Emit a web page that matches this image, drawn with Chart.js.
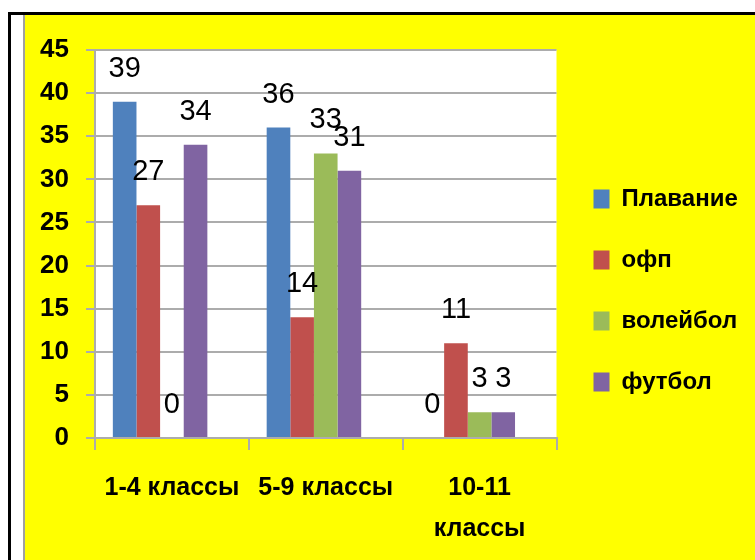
<!DOCTYPE html>
<html>
<head>
<meta charset="utf-8">
<script src="https://cdn.jsdelivr.net/npm/chart.js@4.4.1/dist/chart.umd.min.js"></script>
<style>
  body { margin: 0; background: #ffffff; }
  canvas { display: block; }
</style>
</head>
<body>
<canvas id="sportChart" width="755" height="560"></canvas>
<script>
var groups = ['1-4 классы', '5-9 классы', ['10-11', 'классы']];
var seriesNames = ['Плавание', 'офп', 'волейбол', 'футбол'];
var swimming = [39, 36, 0];
var ofp = [27, 14, 11];
var volleyball = [0, 33, 3];
var football = [34, 31, 3];
var seriesColors = ['#4f81bd', '#c0504d', '#9bbb59', '#8064a2'];

var gridGray = '#acacac';

// page frame, yellow background and white plot area
var backdrop = {
    id: 'backdrop',
    afterLayout: function(chart) {
        // let the two-line category label run below the padded box
        chart.scales.x.bottom = chart.height;
    },
    beforeDraw: function(chart) {
        var c = chart.ctx, a = chart.chartArea;
        c.save();
        c.fillStyle = '#ffffff';
        c.fillRect(0, 0, chart.width, chart.height);
        c.fillStyle = '#000000';
        c.fillRect(8, 12, 3, chart.height - 12);
        c.fillRect(8, 12, chart.width - 8, 3);
        c.fillStyle = '#a0a0a0';
        c.fillRect(23, 15, 2, chart.height - 15);
        c.fillStyle = '#ffff00';
        c.fillRect(25, 15, chart.width - 25, chart.height - 15);
        c.fillStyle = '#ffffff';
        c.fillRect(a.left, a.top, a.right - a.left, a.bottom - a.top);
        c.restore();
    }
};

// value labels above every bar
var valueLabels = {
    id: 'valueLabels',
    afterDatasetsDraw: function(chart) {
        var c = chart.ctx;
        c.save();
        c.font = '29px "Liberation Sans", sans-serif';
        c.fillStyle = '#000000';
        c.textAlign = 'center';
        c.textBaseline = 'middle';
        chart.data.datasets.forEach(function(ds, i) {
            if (!ds.label) return;
            var meta = chart.getDatasetMeta(i);
            meta.data.forEach(function(bar, j) {
                c.fillText(String(ds.data[j]), bar.x, bar.y - 33);
            });
        });
        c.restore();
    }
};

var seriesData = [swimming, ofp, volleyball, football];

var datasets = seriesNames.map(function(name, i) {
    return {
        label: name,
        data: seriesData[i],
        backgroundColor: seriesColors[i],
        borderWidth: 0,
        barPercentage: 1,
        categoryPercentage: 0.768
    };
});
// empty slot after the four series, like the original's spacing
datasets.push({
    label: '',
    data: [null, null, null],
    barPercentage: 1,
    categoryPercentage: 0.768
});

var config = {
    type: 'bar',
    data: {
        labels: groups,
        datasets: datasets
    },
    options: {
        responsive: false,
        animation: false,
        layout: {
            padding: { left: 0, top: 50, right: 13, bottom: 29 }
        },
        scales: {
            x: {
                grid: {
                    display: true,
                    drawOnChartArea: false,
                    offset: true,
                    tickLength: 12,
                    lineWidth: 2,
                    color: gridGray
                },
                border: { color: gridGray, width: 2 },
                ticks: {
                    color: '#000000',
                    padding: 18,
                    maxRotation: 0,
                    autoSkip: false,
                    font: { family: '"Liberation Sans", sans-serif', size: 25, weight: 'bold', lineHeight: 1.64 }
                },
                afterFit: function(scale) { scale.height = 93; }
            },
            y: {
                min: 0,
                max: 45,
                grid: {
                    color: gridGray,
                    lineWidth: 2,
                    tickLength: 9
                },
                border: { color: gridGray, width: 2 },
                ticks: {
                    stepSize: 5,
                    color: '#000000',
                    padding: 17,
                    font: { family: '"Liberation Sans", sans-serif', size: 26, weight: 'bold' }
                },
                afterFit: function(scale) { scale.width = 95; }
            }
        },
        plugins: {
            legend: {
                position: 'right',
                labels: {
                    color: '#000000',
                    boxWidth: 16,
                    boxHeight: 19,
                    padding: 37,
                    font: { family: '"Liberation Sans", sans-serif', size: 24, weight: 'bold' },
                    filter: function(item) { return item.text !== ''; }
                }
            },
            tooltip: { enabled: false }
        }
    },
    plugins: [backdrop, valueLabels]
};

var ctx = document.getElementById('sportChart').getContext('2d');
var sportChart = new Chart(ctx, config);
</script>
</body>
</html>
